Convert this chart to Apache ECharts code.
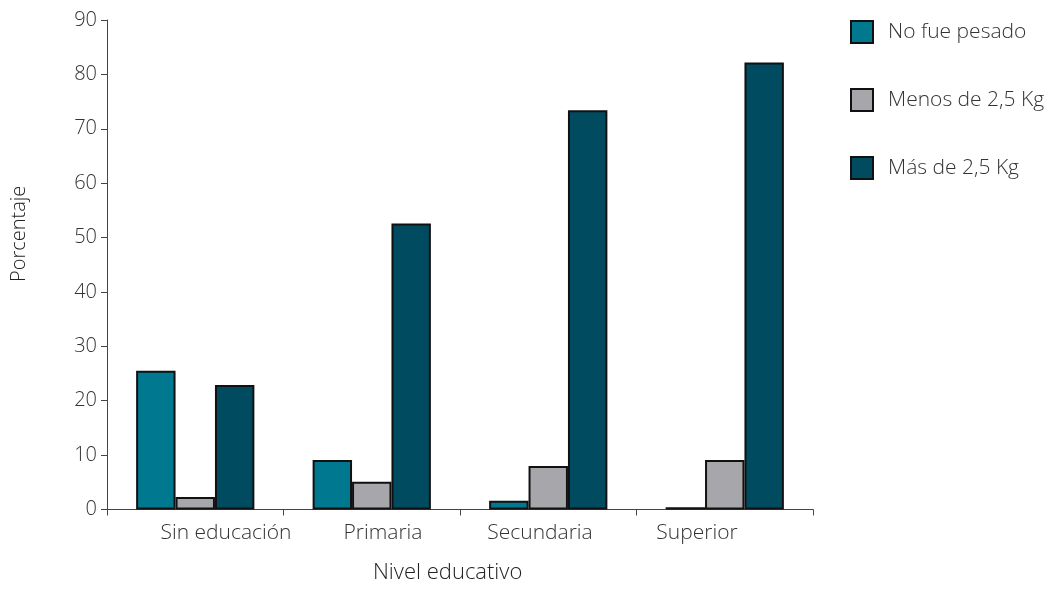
<!DOCTYPE html>
<html><head><meta charset="utf-8">
<script src="https://cdn.jsdelivr.net/npm/echarts@6/dist/echarts.min.js"></script>
<style>html,body{margin:0;padding:0;background:#fff}#c{width:1055px;height:592px}</style>
</head><body><div id="c"></div>
<script>
const categories = ['Sin educación', 'Primaria', 'Secundaria', 'Superior'];
const noFuePesado = [25.5, 9.1, 1.6, 0.4];
const menos25 = [2.3, 5.1, 8.0, 9.1];
const mas25 = [22.9, 52.6, 73.4, 82.2];
const seriesNames = ['No fue pesado', 'Menos de 2,5 Kg', 'Más de 2,5 Kg'];
const yTicks = { min: 0, max: 90, interval: 10 };

const font = 'Open Sans';
const fw = 300;
const chart = echarts.init(document.getElementById('c'));
const colors = ['#00788f', '#a7a7ab', '#004b5f'];
const data = [noFuePesado, menos25, mas25];
chart.setOption({
  animation: false,
  textStyle: { fontFamily: font, fontWeight: fw },
  grid: [
    { left: 107, right: 242, top: 20, bottom: 82.5 },
    { left: 147.5, width: 628, top: 20, bottom: 82.5 }
  ],
  legend: {
    orient: 'vertical', left: 845, top: 15, itemWidth: 22, itemHeight: 22, itemGap: 44, icon: 'rect',
    textStyle: { fontSize: 21, color: '#333', fontFamily: font, fontWeight: fw, padding: [0, 0, 0, 10] },
    data: seriesNames.map((n, i) => ({ name: n, itemStyle: { color: colors[i], borderColor: '#111', borderWidth: 2 } }))
  },
  xAxis: [
    {
      type: 'category', data: categories, gridIndex: 0,
      axisLine: { lineStyle: { color: '#444', width: 1 } },
      axisTick: { show: true, length: 6, interval: 0, lineStyle: { color: '#444' } },
      axisLabel: { show: false }
    },
    {
      type: 'category', data: categories, gridIndex: 1, position: 'bottom',
      axisLine: { show: false }, axisTick: { show: false },
      axisLabel: { show: true, interval: 0, margin: 13, fontSize: 21, color: '#333', fontFamily: font, fontWeight: fw }
    }
  ],
  yAxis: [
    {
      type: 'value', gridIndex: 0, min: yTicks.min, max: yTicks.max, interval: yTicks.interval,
      splitLine: { show: false },
      axisLine: { show: true, lineStyle: { color: '#444', width: 1 } },
      axisTick: { show: true, length: 6, lineStyle: { color: '#444' } },
      axisLabel: { fontSize: 20, color: '#333', margin: 10, fontFamily: font, fontWeight: fw }
    },
    { type: 'value', gridIndex: 1, show: false, min: 0, max: 90 }
  ],
  graphic: [
    { type: 'text', left: 373, top: 562, style: { text: 'Nivel educativo', fontSize: 22, fill: '#222', fontFamily: font, fontWeight: fw } },
    { type: 'text', x: 9, y: 282, rotation: Math.PI / 2, style: { text: 'Porcentaje', fontSize: 20, fill: '#222', fontFamily: font, fontWeight: fw } }
  ],
  series: seriesNames.map((n, i) => ({
    name: n, type: 'bar', xAxisIndex: 0, yAxisIndex: 0, data: data[i],
    barGap: '0%', barCategoryGap: '33%',
    itemStyle: { color: colors[i], borderColor: '#111', borderWidth: 2 }
  }))
});
</script></body></html>
